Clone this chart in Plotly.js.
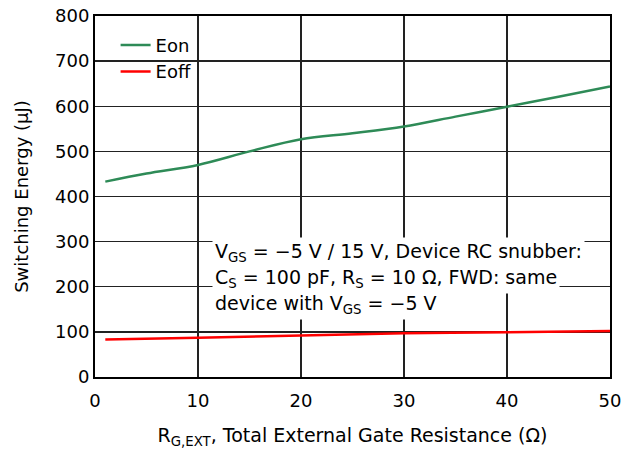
<!DOCTYPE html>
<html>
<head>
<meta charset="utf-8">
<script src="https://cdn.plot.ly/plotly-3.0.1.min.js"></script>
<style>html,body{margin:0;padding:0;background:#fff;}#chart{width:622px;height:452px;}</style>
</head>
<body>
<div id="chart"></div>
<script>
const eonX = [1, 5, 10, 15, 20, 25, 30, 35, 40, 45, 50];
const eonY = [433, 451, 470, 500, 527, 540, 555, 577, 599, 621, 644];
const eoffX = [1, 10, 20, 30, 40, 50];
const eoffY = [83, 87, 92, 97, 99, 102];
const xTicks = [0, 10, 20, 30, 40, 50];
const yTicks = [0, 100, 200, 300, 400, 500, 600, 700, 800];
const noteLines = [
  "V<sub>GS</sub> = \u22125 V / 15 V, Device RC snubber:",
  "C<sub>S</sub> = 100 pF, R<sub>S</sub> = 10 \u03A9, FWD: same",
  "device with V<sub>GS</sub> = \u22125 V"
];

const FONT = "DejaVu Sans, Liberation Sans, Arial, sans-serif";

const traces = [
  {x: eonX, y: eonY, name: "Eon", mode: "lines", line: {color: "#2e8b57", width: 2.5, shape: "spline"}},
  {x: eoffX, y: eoffY, name: "Eoff", mode: "lines", line: {color: "#ff0000", width: 2.5, shape: "spline"}}
];

const annotations = noteLines.map((t, i) => ({
  text: t, xref: "x", yref: "y", x: 11.4, y: 277 - i * 58.7,
  xanchor: "left", yanchor: "middle", showarrow: false,
  align: "left", bgcolor: "#ffffff", borderpad: 2,
  font: {family: FONT, size: 19, color: "#000"}
}));

const layout = {
  width: 622, height: 452,
  margin: {l: 95, r: 12, t: 16, b: 75},
  paper_bgcolor: "#fff", plot_bgcolor: "#fff",
  font: {family: FONT, size: 18, color: "#000"},
  showlegend: true,
  legend: {x: 0.04, y: 0.97, xanchor: "left", yanchor: "top", bgcolor: "rgba(255,255,255,0)",
           font: {family: FONT, size: 18, color: "#000"}},
  xaxis: {range: [0, 50], tickvals: xTicks, ticks: "", showgrid: true, gridcolor: "#222", gridwidth: 1.3,
          showline: true, linecolor: "#000", linewidth: 2, mirror: true, zeroline: false,
          tickfont: {size: 18}, ticklabelstandoff: 6,
          title: {text: "R<sub>G,EXT</sub>, Total External Gate Resistance (\u03A9)", font: {size: 19}, standoff: 19}},
  yaxis: {range: [0, 800], tickvals: yTicks, ticks: "", showgrid: true, gridcolor: "#222", gridwidth: 1.3,
          showline: true, linecolor: "#000", linewidth: 2, mirror: true, zeroline: false,
          tickfont: {size: 18},
          title: {text: "Switching Energy (\u00B5J)", font: {size: 18}, standoff: 22}},
  annotations: annotations
};

Plotly.newPlot("chart", traces, layout, {displayModeBar: false, staticPlot: true});
</script>
</body>
</html>
